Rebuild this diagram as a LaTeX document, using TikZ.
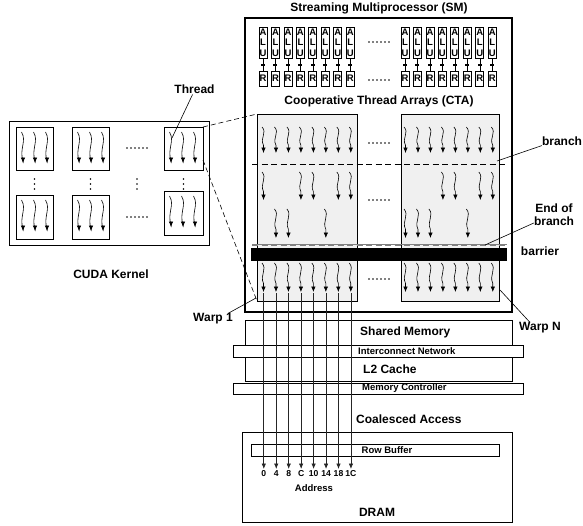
\documentclass[tikz,border=0pt]{standalone}
\usepackage{fontspec}
\setmainfont{Liberation Sans}
\usetikzlibrary{arrows.meta,calc}
\newcommand\rectnode[6]{\node[#6, minimum width={(#4-#2)*1pt}, minimum height={(#5-#3)*1pt}] (#1) at ({(#2+#4)/2},{(#3+#5)/2}) {};}
\newcommand\thr[3]{\draw[thrline] ({#1-1.5},#2) .. controls ({#1+4},{#2+0.22*(#3-#2)}) and ({#1-4},{#2+0.42*(#3-#2)}) .. (#1,{#2+0.7*(#3-#2)}) -- (#1,#3);}
\newcommand\hdots[2]{\foreach \k in {0,...,5}{\fill ({#1-10+4*\k},#2) circle (0.9pt);}}
\newcommand\vdotsat[2]{\foreach \k in {0,...,2}{\fill (#1,{#2-5+5*\k}) circle (0.9pt);}}
\begin{document}
\begin{tikzpicture}[x=1pt,y=-1pt,
  big/.style={font=\fontsize{12}{13}\selectfont\bfseries, inner sep=0pt},
  small/.style={font=\fontsize{9.5}{10.5}\selectfont\bfseries, inner sep=0pt},
  tiny/.style={font=\fontsize{8.6}{10}\selectfont\bfseries, inner sep=0pt},
  rect/.style={draw, line width=0.8pt, inner sep=0pt, outer sep=0pt},
  bar/.style={rect, fill=white},
  cta/.style={rect, fill=black!6},
  thrline/.style={line width=0.6pt, -{Latex[length=5.5pt,width=4.5pt]}},
  access/.style={line width=0.7pt, black!85, -{Latex[length=5.5pt,width=4.5pt]}},
  pointer/.style={line width=0.6pt}
]
\useasboundingbox (0,0) rectangle (583,525);

% ---------------- CUDA kernel ----------------
\rectnode{kernel}{9}{121}{209}{245}{rect, line width=1pt}
\rectnode{b1}{16}{127}{53}{170}{rect}
\rectnode{b2}{72}{127}{109}{170}{rect}
\rectnode{b3}{164}{127}{203}{170}{rect}
\rectnode{b4}{16}{195}{53}{239}{rect}
\rectnode{b5}{72}{195}{109}{239}{rect}
\rectnode{b6}{164}{191}{203}{235}{rect}
\foreach \bx/\by in {16/127,72/127,164/127,16/195,72/195,164/191}{
  \foreach \o in {7,19,31}{\thr{\bx+\o}{\by+5}{\by+36}}
}
\hdots{137}{148}
\hdots{137}{217}
\vdotsat{34.5}{184}
\vdotsat{90.5}{184}
\vdotsat{137}{184}
\vdotsat{183.5}{184}
\node[big] (kt) at (111,274) {CUDA Kernel};
\node[big] (thread) at (194.5,89) {Thread};
\coordinate (thrend) at (172,138);
\draw[pointer] ([xshift=-2pt,yshift=-1pt]thread.south) -- (thrend);

% ---------------- SM ----------------
\rectnode{sm}{245}{18}{512}{312}{rect, line width=1.2pt}
\node[big] (smt) at (379,8) {Streaming Multiprocessor (SM)};
\foreach \g/\xst in {L/263, R/405}{
  \foreach \i in {0,...,7}{
    \pgfmathsetmacro\cx{\xst+12.47*\i}
    \node[rect, minimum width=8pt, minimum height=31pt, small, align=center] (alu\g\i) at (\cx,42.5) {A\\L\\U};
    \node[rect, minimum width=8pt, minimum height=15pt, small] (reg\g\i) at (\cx,78.5) {R};
    \draw[line width=0.6pt] (alu\g\i) -- (reg\g\i);
    \fill (\cx-2,64.2) rectangle (\cx+2,66.2);
  }
}
\hdots{379}{42}
\hdots{379}{80}
\node[big] (ctat) at (379,101) {Cooperative Thread Arrays (CTA)};

\rectnode{cta1}{257}{114}{357}{301}{cta}
\rectnode{cta2}{401}{114}{499}{301}{cta}

% dashed zoom lines from kernel block to CTA
\draw[line width=0.6pt, dash pattern=on 5pt off 3pt] (b3.north east) -- (cta1.north west);
\draw[line width=0.6pt, dash pattern=on 5pt off 3pt] (b3.east |- 0,160) -- (cta1.south west);

% branch line
\coordinate (brL) at (252,164);
\coordinate (brR) at (507,164);
\draw[line width=0.7pt, dash pattern=on 6pt off 3.5pt] (brL) -- (brR);
% end of branch
\coordinate (ebL) at (252,245.8);
\coordinate (ebR) at (507,245.8);
\draw[gray, line width=0.5pt] (252,243.9) -- (507,243.9);
\draw[gray, line width=0.9pt, dash pattern=on 6pt off 3.5pt] (ebL) -- (ebR);
% barrier
\rectnode{barrier}{251}{248}{506}{260}{rect, fill=black}

% threads
\foreach \xst in {263.5, 405.5}{
  \foreach \i in {0,...,7}{\thr{\xst+12.47*\i}{127}{153}}
  \foreach \i in {0,...,7}{\thr{\xst+12.47*\i}{263}{292}}
}
\foreach \i in {0,3,4,6,7}{\thr{263.5+12.47*\i}{172}{200}}
\foreach \i in {1,2,5}{\thr{263.5+12.47*\i}{209}{238}}
\foreach \i in {3,4,6,7}{\thr{405.5+12.47*\i}{172}{200}}
\foreach \i in {0,1,2,5}{\thr{405.5+12.47*\i}{209}{238}}
\hdots{379}{143}
\hdots{379}{200}
\hdots{379}{279}

% labels on the right
\node[big] (brlbl) at (562,141) {branch};
\coordinate (brpt) at (497,161);
\draw[pointer] (brlbl.south west) -- (brpt);
\node[big, align=center] (eob) at (554,215) {End of\\branch};
\coordinate (ebpt) at (485,245);
\draw[pointer] (eob.west |- 0,223) -- (ebpt);
\node[big] (barl) at (540,251) {barrier};
\node[big] (warpN) at (540,328) {Warp N};
\coordinate (wNpt) at (500,290);
\draw[pointer] ([xshift=-10pt]warpN.north) -- (wNpt);
\node[big] (warp1) at (213,319) {Warp 1};
\draw[pointer] ([xshift=-5pt]warp1.north east) -- ([xshift=-1pt,yshift=3pt]cta1.south west);

% ---------------- memory hierarchy ----------------
\rectnode{smem}{245}{320}{512}{381}{rect}
\rectnode{icn}{233}{345}{523}{357}{bar}
\rectnode{mc}{233}{383}{523}{394}{bar}
\node[big, anchor=west] (smemt) at (360,332) {Shared Memory};
\node[small, anchor=west] (icnt) at (358,351) {Interconnect Network};
\node[big, anchor=west] (l2t) at (363,369) {L2 Cache};
\node[small, anchor=west] (mct) at (362,388.5) {Memory Controller};
\node[big, anchor=west] (coal) at (356,419) {Coalesced Access};

\rectnode{dram}{242}{432}{512}{522}{rect}
\rectnode{rowbuf}{251}{444}{499}{456}{bar}
\node[small] (rbt) at (387,450) {Row Buffer};
\node[big] (dramt) at (377,512) {DRAM};
\node[small] (addrt) at (314,488) {Address};

\foreach \i/\a in {0/0,1/4,2/8,3/C,4/10,5/14,6/18,7/1C}{
  \pgfmathsetmacro\cx{263.8+12.45*\i}
  \coordinate (ws\i) at (\cx,293);
  \node[tiny, anchor=north] (addr\i) at (\cx,470.5) {\a};
  \draw[access] (ws\i) -- ([yshift=1.5pt]addr\i.north);
}
\end{tikzpicture}
\end{document}
